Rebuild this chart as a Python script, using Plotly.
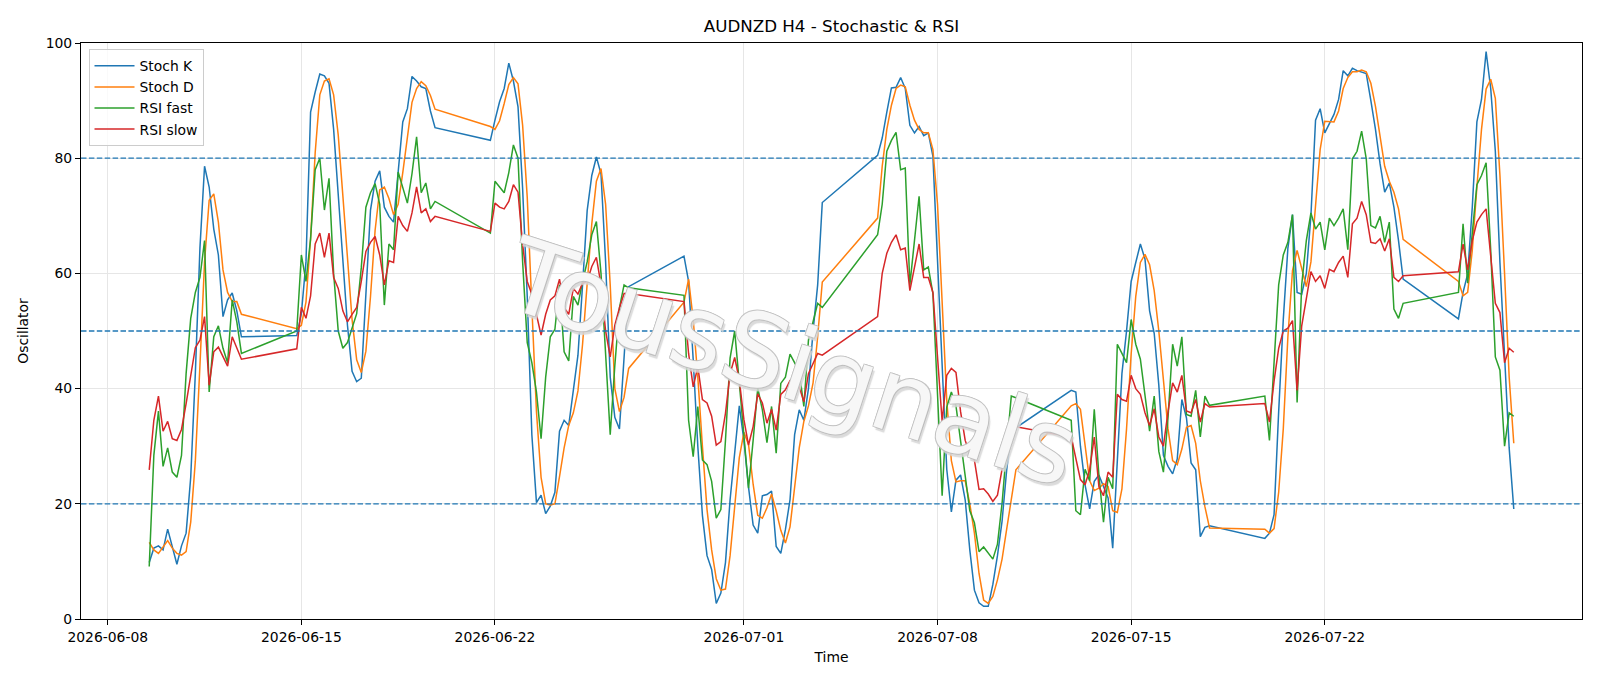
import pandas as pd
import plotly.graph_objects as go

# ---- data -------------------------------------------------------------
# continuous H4 sessions (start of session, number of 4h bars)
seg_starts = ["2026-06-09 12:00", "2026-06-14 20:00", "2026-06-21 20:00", "2026-06-28 20:00",
              "2026-07-05 20:00", "2026-07-12 20:00", "2026-07-19 20:00", "2026-07-26 20:00"]
seg_lengths = [21, 31, 31, 31, 31, 31, 31, 13]

stoch_k = [
    9.8, 12.3, 12.7, 12.0, 15.6, 12.7, 9.5, 12.7, 14.9, 24.6, 42.6, 64.4, 78.6, 75.0, 67.7, 63.2, 52.5, 55.4, 56.6, 53.5, 49.0,
    49.2, 53.0, 62.0, 88.0, 91.5, 94.6, 94.3, 93.0, 85.0, 74.0, 62.0, 51.0, 43.0, 41.2, 41.8, 56.0, 71.0, 76.0, 77.8, 71.5,
    69.9, 68.9, 77.0, 86.3, 88.6, 94.2, 93.4, 92.4, 92.1, 88.2, 85.3,
    83.1, 86.6, 89.8, 92.1, 96.5, 93.4, 88.9, 74.7, 56.0, 32.0, 20.2, 21.5, 18.3, 19.6, 22.0, 32.6, 34.5, 33.6, 39.4, 45.8,
    58.0, 70.9, 77.0, 80.2, 77.3, 62.0, 42.0, 35.0, 33.0, 45.0, 57.7,
    63.0, 58.6, 45.0, 30.0, 18.0, 11.0, 8.6, 2.7, 4.5, 9.8, 20.7, 29.3, 37.0, 31.0, 22.9, 16.3, 14.9, 21.4, 21.6, 22.2,
    12.6, 11.4, 15.5, 20.7, 32.0, 36.3, 34.5, 40.0, 50.0, 58.0, 72.3,
    80.5, 83.5, 88.0, 92.2, 92.3, 94.0, 92.1, 85.7, 84.4, 85.5, 83.9, 84.4, 80.3, 62.0, 42.0, 26.0, 18.6, 24.1, 25.0, 20.7,
    12.0, 5.0, 2.8, 2.2, 2.2, 6.0, 11.0, 17.0, 25.9, 32.3, 33.2,
    39.7, 39.4, 30.0, 23.3, 19.1, 23.9, 25.0, 23.0, 21.0, 12.3, 27.1, 42.6, 50.0, 58.6, 61.9, 65.1, 62.5, 53.5, 49.6, 40.6,
    28.4, 26.5, 25.2, 27.8, 38.1, 34.9, 27.1, 25.9, 14.3, 15.9, 16.2,
    14.0, 14.9, 18.1, 36.0, 52.0, 64.4, 70.2, 56.7, 56.4, 60.0, 70.0, 86.6, 88.6, 84.4, 86.0, 87.6, 90.2, 95.2, 94.3, 95.6,
    95.2, 95.0, 94.7, 90.0, 85.0, 79.0, 74.1, 75.7, 71.5, 65.7, 59.0,
    52.1, 56.7, 59.9, 71.5, 86.3, 90.2, 98.5, 92.1, 81.2, 61.9, 45.8, 29.7, 19.1,
]

stoch_d = [
    13.3, 12.0, 11.4, 12.5, 13.6, 12.3, 11.4, 11.1, 11.7, 16.8, 27.4, 44.0, 62.0, 72.7, 73.8, 68.9, 60.6, 56.7, 55.1, 55.1, 52.9,
    50.4, 51.0, 55.0, 66.0, 81.0, 91.0, 93.4, 93.8, 91.0, 84.0, 73.5, 62.0, 52.0, 45.0, 42.8, 46.5, 56.0, 67.5, 74.5, 75.0,
    73.0, 70.2, 72.0, 77.5, 84.0, 89.7, 92.1, 93.3, 92.6, 90.9, 88.5,
    85.5, 85.0, 86.5, 89.5, 92.8, 94.0, 92.9, 85.7, 73.2, 54.2, 36.0, 24.6, 20.0, 19.8, 20.0, 24.7, 29.7, 33.6, 35.8, 39.6,
    47.7, 58.2, 68.6, 76.0, 78.2, 72.0, 58.0, 40.0, 36.0, 38.5, 43.5,
    55.0, 59.0, 52.0, 42.0, 30.0, 19.0, 12.0, 7.0, 5.0, 5.2, 11.0, 19.0, 28.0, 32.4, 30.3, 23.4, 18.0, 17.5, 19.3, 21.7,
    18.8, 15.4, 13.2, 16.0, 22.7, 29.7, 34.3, 37.0, 41.0, 49.0, 58.5,
    69.6, 78.6, 85.0, 89.2, 92.1, 92.7, 92.4, 89.2, 86.6, 85.0, 84.4, 84.4, 81.5, 72.0, 56.0, 38.0, 27.5, 23.8, 24.0, 24.0,
    20.0, 14.9, 7.9, 3.3, 2.7, 3.9, 6.8, 10.4, 15.6, 20.7, 25.9,
    37.0, 37.4, 36.4, 30.5, 24.0, 22.3, 22.7, 23.5, 23.0, 18.8, 18.5, 22.6, 33.0, 46.0, 56.0, 61.9, 63.3, 61.5, 57.0, 50.0,
    41.0, 33.0, 27.5, 26.8, 29.5, 33.3, 33.6, 30.5, 24.0, 19.5, 15.8,
    15.6, 14.9, 15.7, 22.0, 33.0, 49.0, 60.5, 64.0, 61.0, 57.7, 62.0, 72.2, 81.5, 86.4, 86.3, 86.3, 88.2, 92.1, 94.0, 95.0,
    95.0, 95.3, 95.0, 93.0, 89.0, 83.7, 78.6, 76.0, 74.1, 71.2, 65.9,
    58.6, 56.1, 56.7, 64.0, 75.0, 85.0, 92.0, 93.7, 90.4, 77.0, 60.0, 42.0, 30.5,
]

rsi_fast = [
    9.1, 28.4, 36.1, 26.5, 29.7, 25.5, 24.6, 28.4, 42.6, 52.2, 56.7, 59.3, 65.7, 39.4, 49.0, 50.9, 47.0, 44.5, 55.4, 51.6, 46.1,
    50.0, 63.2, 58.6, 66.0, 78.0, 80.0, 71.0, 76.5, 60.0, 50.0, 47.0, 48.0, 50.5, 53.0, 61.0, 71.5, 74.0, 75.6, 72.0, 54.5,
    65.1, 64.1, 77.6, 74.7, 72.2, 77.3, 83.7, 74.0, 75.7, 71.2, 72.5,
    67.0, 76.0, 75.0, 74.0, 77.5, 82.3, 80.0, 62.0, 48.0, 44.5, 39.4, 31.3, 42.0, 49.0, 50.3, 58.0, 46.4, 44.8, 56.0, 54.5,
    58.6, 62.0, 66.7, 69.0, 60.0, 47.0, 32.0, 44.0, 54.0, 58.0, 57.5,
    56.2, 34.5, 28.2, 36.9, 27.6, 26.8, 23.9, 17.5, 19.0, 31.0, 45.3, 50.0, 41.0, 32.3, 22.7, 31.0, 40.1, 36.3, 30.6, 36.9,
    28.8, 40.9, 42.0, 46.0, 44.6, 43.0, 36.9, 48.4, 51.6, 54.8, 54.1,
    66.7, 72.0, 81.2, 83.1, 84.5, 78.0, 78.3, 58.0, 65.7, 73.4, 60.6, 61.1, 56.5, 40.0, 21.4, 36.8, 39.4, 37.0, 31.0, 25.0,
    18.8, 16.7, 11.7, 12.5, 11.5, 10.4, 13.0, 20.1, 29.7, 38.7, 38.4,
    34.5, 18.8, 18.1, 26.0, 24.0, 36.4, 25.0, 16.8, 24.6, 22.6, 47.7, 46.1, 44.5, 52.0, 47.7, 45.1, 38.7, 32.6, 38.7, 29.1,
    25.5, 35.0, 47.7, 43.9, 49.0, 35.5, 35.2, 39.7, 31.6, 38.7, 37.1,
    38.7, 31.0, 45.0, 58.0, 63.2, 65.4, 70.2, 37.6, 58.0, 65.7, 70.5, 67.7, 68.9, 64.1, 69.6, 68.3, 69.6, 71.2, 64.1, 79.9,
    81.2, 84.7, 79.9, 68.3, 67.9, 69.9, 65.4, 68.9, 53.8, 52.2, 54.8,
    56.7, 68.6, 58.3, 67.0, 75.4, 77.0, 79.2, 64.0, 45.5, 43.2, 30.0, 35.8, 35.2,
]

rsi_slow = [
    25.9, 34.5, 38.7, 32.6, 34.3, 31.3, 31.0, 32.9, 37.4, 42.6, 47.1, 48.4, 52.5, 40.6, 46.4, 47.2, 45.5, 43.9, 49.0, 47.1, 45.1,
    46.9, 54.1, 52.2, 56.1, 65.1, 67.0, 62.8, 67.0, 59.3, 57.4, 53.5, 51.6, 52.9, 54.1, 58.6, 63.8, 65.4, 66.4, 63.2, 58.0,
    62.2, 61.9, 69.9, 68.3, 67.3, 70.5, 75.0, 70.5, 71.2, 69.0, 69.9,
    67.3, 72.2, 71.5, 71.2, 72.5, 75.4, 74.1, 65.0, 58.6, 56.4, 52.9, 49.3, 52.9, 55.4, 56.1, 59.0, 54.1, 52.9, 57.4, 56.4,
    58.3, 58.6, 61.2, 62.8, 58.0, 50.0, 45.5, 51.0, 54.0, 56.5, 56.5,
    55.1, 46.1, 40.3, 43.8, 38.1, 37.5, 35.2, 30.2, 30.8, 35.7, 42.6, 45.4, 41.5, 34.6, 30.2, 33.4, 39.1, 37.5, 34.0, 36.4,
    32.8, 39.0, 39.8, 41.4, 41.2, 40.3, 37.7, 42.6, 44.5, 46.1, 45.8,
    52.5, 60.0, 63.5, 65.4, 66.7, 64.1, 64.4, 57.0, 61.2, 65.1, 59.3, 59.3, 56.7, 45.0, 34.3, 42.3, 43.5, 42.8, 36.0, 31.0,
    28.7, 27.6, 22.5, 22.6, 21.7, 20.4, 21.5, 26.0, 30.0, 33.2, 33.4,
    31.6, 27.8, 24.2, 23.3, 25.9, 31.6, 23.0, 21.4, 25.5, 24.6, 39.0, 38.1, 37.8, 42.3, 40.0, 39.0, 35.8, 33.6, 36.5, 31.6,
    30.0, 36.0, 41.0, 39.4, 42.3, 36.1, 35.8, 38.1, 34.2, 37.4, 36.8,
    37.4, 34.2, 41.3, 47.0, 50.0, 50.5, 51.8, 39.7, 50.9, 55.4, 60.3, 58.6, 59.6, 57.4, 60.7, 60.3, 61.9, 63.0, 59.3, 68.6,
    69.6, 72.5, 70.2, 65.4, 65.2, 66.0, 63.9, 66.0, 59.3, 58.6, 59.6,
    60.3, 65.1, 60.6, 65.7, 68.9, 70.2, 71.2, 63.0, 54.8, 53.2, 44.5, 47.0, 46.3,
]

levels = [20, 50, 80]
tick_dates = ["2026-06-08", "2026-06-15", "2026-06-22", "2026-07-01", "2026-07-08", "2026-07-15", "2026-07-22"]
x_range = ["2026-06-07 00:48", "2026-07-31 07:12"]

series = [("Stoch K", stoch_k, "#1f77b4"), ("Stoch D", stoch_d, "#ff7f0e"),
          ("RSI fast", rsi_fast, "#2ca02c"), ("RSI slow", rsi_slow, "#d62728")]

# ---- build ------------------------------------------------------------
times = []
for s, n in zip(seg_starts, seg_lengths):
    times.extend(pd.date_range(s, periods=n, freq="4h"))

FONT = "DejaVu Sans"
fig = go.Figure()

for name, vals, color in series:
    assert len(vals) == len(times), (name, len(vals), len(times))
    fig.add_trace(go.Scatter(x=times, y=vals, mode="lines", name=name,
                             line=dict(color=color, width=1.5)))

for lv in levels:
    fig.add_hline(y=lv, line=dict(color="#1f77b4", width=1.3, dash="5.5px,2.4px"), layer="above")

outline = "#bdbdbd"
fig.add_annotation(text="TousSignals", xref="paper", yref="paper", x=0.474, y=0.446,
                   showarrow=False, textangle=18,
                   font=dict(family=FONT, size=102, color="rgba(255,255,255,0.88)",
                             shadow=(f"0.8px 0.8px 0 {outline}, -0.8px -0.8px 0 {outline}, "
                                     f"0.8px -0.8px 0 {outline}, -0.8px 0.8px 0 {outline}, "
                                     "3px 3px 1px #d6d6d6")))

axis_common = dict(showline=True, linecolor="black", linewidth=1.1, mirror=True,
                   ticks="outside", ticklen=5, tickwidth=1.1, tickcolor="black",
                   showgrid=True, gridcolor="#e6e6e6", gridwidth=1, zeroline=False,
                   tickfont=dict(family=FONT, size=13.9, color="black"))

fig.update_layout(
    width=1600, height=686,
    margin=dict(l=81, r=18, t=43, b=67),
    paper_bgcolor="white", plot_bgcolor="white",
    font=dict(family=FONT, size=13.9, color="black"),
    title=dict(text="AUDNZD H4 - Stochastic & RSI", x=0.5, xref="paper", xanchor="center",
               y=1 - 26 / 686, yref="container", yanchor="middle",
               font=dict(family=FONT, size=16.7, color="black")),
    xaxis=dict(type="date", range=x_range, tickvals=tick_dates, ticktext=tick_dates,
               title=dict(text="Time", standoff=8, font=dict(family=FONT, size=13.9)),
               **axis_common),
    yaxis=dict(range=[0, 100], tickvals=[0, 20, 40, 60, 80, 100],
               title=dict(text="Oscillator", standoff=13, font=dict(family=FONT, size=13.9)),
               **axis_common),
    legend=dict(x=0.005, y=0.989, xanchor="left", yanchor="top",
                bgcolor="rgba(255,255,255,0.8)", bordercolor="#cccccc", borderwidth=1,
                itemwidth=40, font=dict(family=FONT, size=13.9, color="black"), tracegroupgap=0),
    showlegend=True,
    hovermode=False,
)

fig.write_html("out.html")
